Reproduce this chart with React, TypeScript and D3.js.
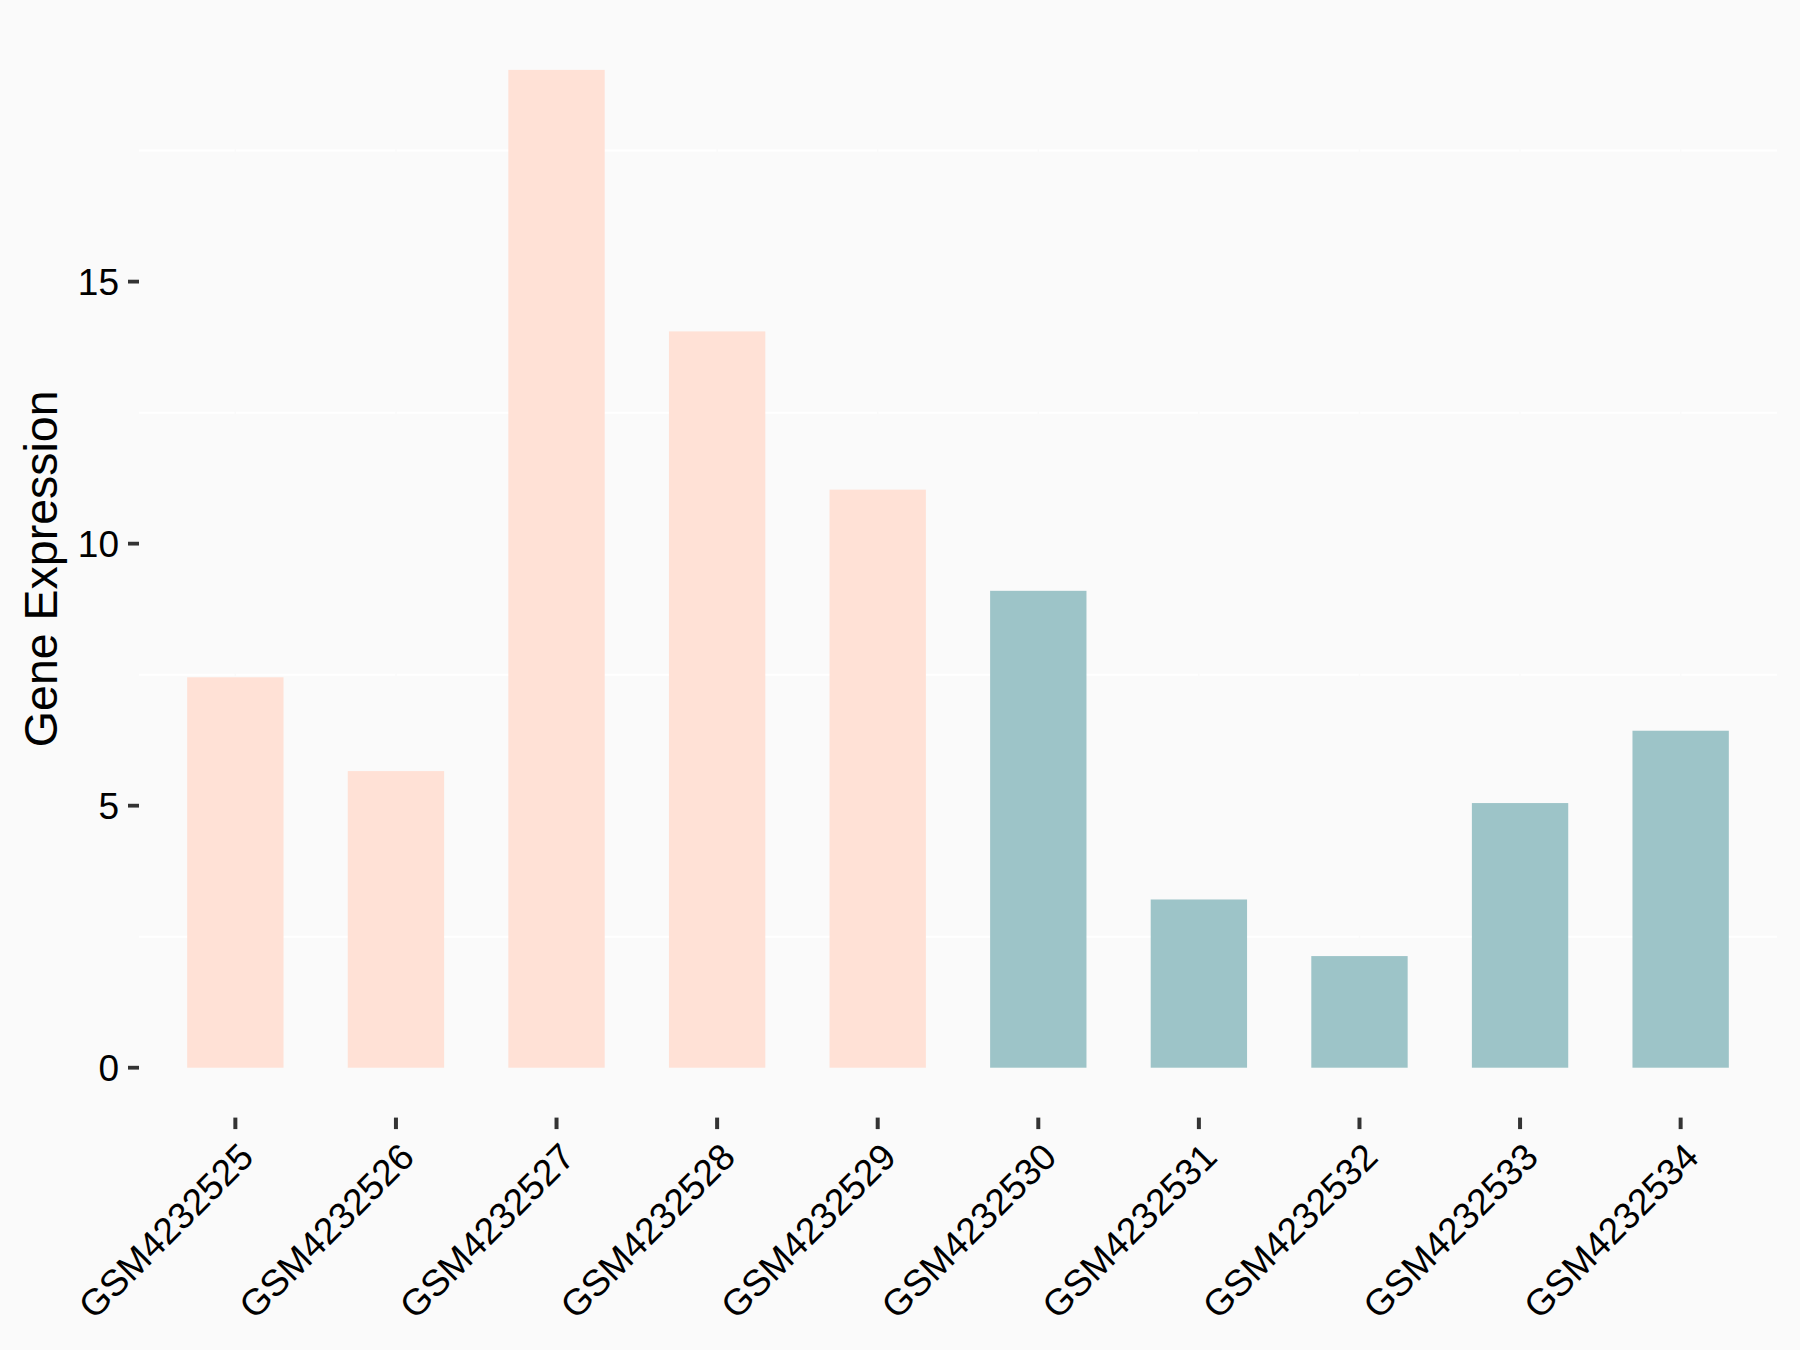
import React, { useEffect } from "react";
import * as d3 from "d3";

const categories = [
  "GSM4232525", "GSM4232526", "GSM4232527", "GSM4232528", "GSM4232529",
  "GSM4232530", "GSM4232531", "GSM4232532", "GSM4232533", "GSM4232534",
];
const values = [7.45, 5.66, 19.04, 14.05, 11.03, 9.1, 3.21, 2.13, 5.05, 6.43];
const groups = ["A", "A", "A", "A", "A", "B", "B", "B", "B", "B"];
const groupColors: Record<string, string> = { A: "#FFE1D6", B: "#9DC4C8" };
const yTicks = [0, 5, 10, 15];
const yMinor = [2.5, 7.5, 12.5, 17.5];

const W = 1800;
const H = 1350;
const panel = { left: 139, right: 1777, top: 20, bottom: 1117.6 };

export default function App() {
  useEffect(() => {
    document.body.style.margin = "0";
    document.body.style.background = "#FAFAFA";
  }, []);

  const x = d3
    .scaleBand<string>()
    .domain(categories)
    .range([panel.left, panel.right])
    .paddingInner(0.4)
    .paddingOuter(0.3);

  const maxV = d3.max(values) as number;
  const pad = maxV * 0.05;
  const y = d3
    .scaleLinear()
    .domain([-pad, maxV + pad])
    .range([panel.bottom, panel.top]);

  const font = "'Liberation Sans', Arial, Helvetica, sans-serif";
  const tickFont = 37;
  const titleFont = 46.5;

  return (
    <svg width={W} height={H} style={{ display: "block", background: "#FAFAFA" }} fontFamily={font}>
      <rect x={0} y={0} width={W} height={H} fill="#FAFAFA" />
      {/* minor horizontal grid */}
      {yMinor.map((v) => (
        <line key={"mg" + v} x1={panel.left} x2={panel.right} y1={y(v)} y2={y(v)} stroke="#FFFFFF" strokeWidth={2} />
      ))}
      {/* major grid (background-coloured) */}
      {yTicks.map((v) => (
        <line key={"Mg" + v} x1={panel.left} x2={panel.right} y1={y(v)} y2={y(v)} stroke="#FAFAFA" strokeWidth={1.5} />
      ))}
      {categories.map((c) => {
        const cx = (x(c) as number) + x.bandwidth() / 2;
        return <line key={"vg" + c} x1={cx} x2={cx} y1={panel.top} y2={panel.bottom} stroke="#FAFAFA" strokeWidth={1.5} />;
      })}
      {/* bars */}
      {categories.map((c, i) => (
        <rect
          key={"b" + c}
          x={x(c)}
          y={y(values[i])}
          width={x.bandwidth()}
          height={y(0) - y(values[i])}
          fill={groupColors[groups[i]]}
        />
      ))}
      {/* y axis ticks and labels */}
      {yTicks.map((v) => (
        <g key={"yt" + v}>
          <line x1={128} x2={panel.left} y1={y(v)} y2={y(v)} stroke="#333333" strokeWidth={3.8} />
          <text x={119} y={y(v)} dy="0.358em" textAnchor="end" fontSize={tickFont} fill="#000000">
            {v}
          </text>
        </g>
      ))}
      {/* x axis ticks and labels */}
      {categories.map((c) => {
        const cx = (x(c) as number) + x.bandwidth() / 2;
        return (
          <g key={"xt" + c}>
            <line x1={cx} x2={cx} y1={panel.bottom} y2={panel.bottom + 11.5} stroke="#333333" strokeWidth={4} />
            <text
              transform={`translate(${cx + 1.5},${1140.5}) rotate(-45)`}
              dy="0.716em"
              textAnchor="end"
              fontSize={tickFont}
              fill="#000000"
            >
              {c}
            </text>
          </g>
        );
      })}
      {/* y axis title */}
      <text
        transform={`translate(57,${(panel.top + panel.bottom) / 2}) rotate(-90)`}
        textAnchor="middle"
        fontSize={titleFont}
        fill="#000000"
      >
        Gene Expression
      </text>
    </svg>
  );
}
